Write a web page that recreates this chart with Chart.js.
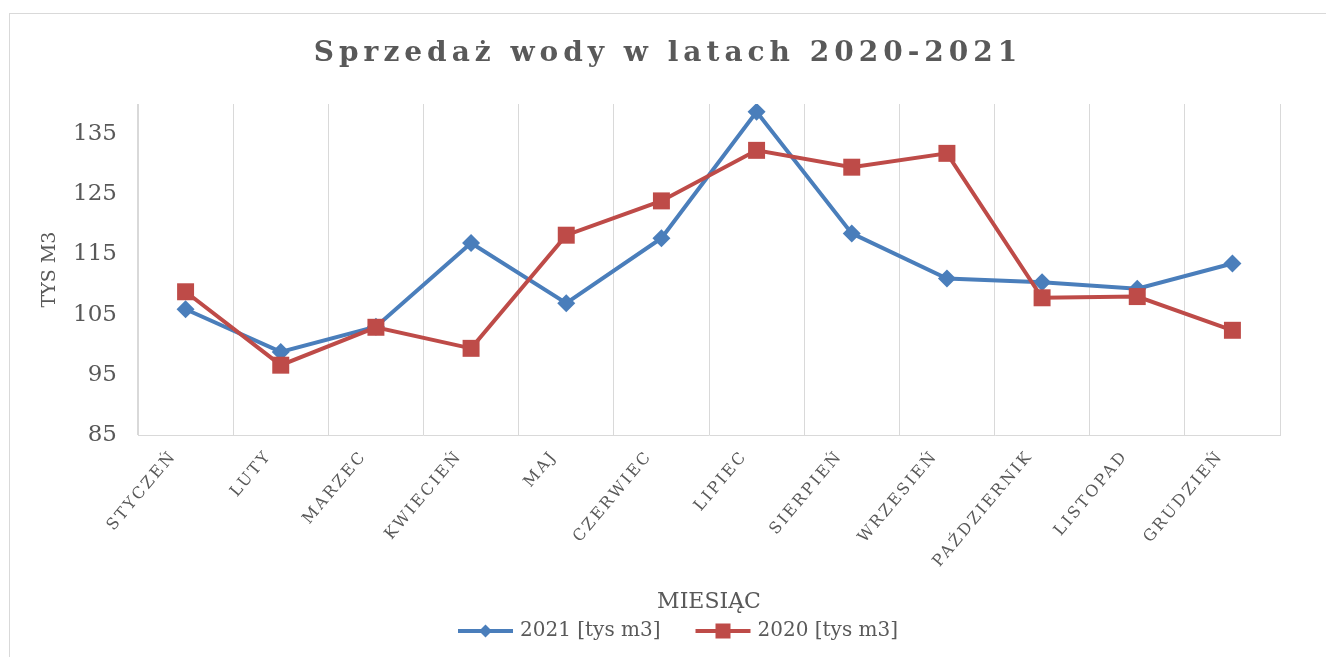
<!DOCTYPE html>
<html lang="pl">
<head>
<meta charset="utf-8">
<title>Sprzedaż wody w latach 2020-2021</title>
<script src="https://cdn.jsdelivr.net/npm/chart.js@4.4.1/dist/chart.umd.min.js"></script>
<style>
    html, body { margin: 0; padding: 0; background: #fff; overflow: hidden; }
    #frame {
        position: absolute;
        left: 9px;
        top: 13px;
        width: 1316px;
        height: 644px;
        border-left: 1px solid #d9d9d9;
        border-top: 1px solid #d9d9d9;
    }
</style>
</head>
<body>
<div id="frame"><canvas id="waterChart"></canvas></div>
<script>
// Dane
const months = ['STYCZEŃ', 'LUTY', 'MARZEC', 'KWIECIEŃ', 'MAJ', 'CZERWIEC',
    'LIPIEC', 'SIERPIEŃ', 'WRZESIEŃ', 'PAŹDZIERNIK', 'LISTOPAD', 'GRUDZIEŃ'];
const sales2021 = [105.9, 98.8, 103.0, 116.9, 106.9, 117.7, 138.7, 118.5, 111.0, 110.4, 109.3, 113.5];
const sales2020 = [108.8, 96.6, 102.9, 99.4, 118.2, 123.9, 132.3, 129.5, 131.8, 107.8, 108.0, 102.4];
const yTicks = [85, 95, 105, 115, 125, 135];
const seriesLabels = ['2021 [tys m3]', '2020 [tys m3]'];

const BLUE = '#4a7ebb';
const RED = '#be4b48';
const TEXT = '#595959';
const GRID = '#d9d9d9';

Chart.defaults.font.family = "'DejaVu Serif', serif";
Chart.defaults.color = TEXT;

// Ikona legendy: linia z markerem jak w Excelu.
// Obrazek jest o 10 px szerszy niż pole legendy, więc linia dochodzi bliżej tekstu.
const LEGEND_BOX = 72;
function legendIcon(color, style) {
    const c = document.createElement('canvas');
    c.width = LEGEND_BOX + 10;
    c.height = 22;
    const g = c.getContext('2d');
    const x0 = 25, x1 = c.width - 2;
    g.strokeStyle = color;
    g.lineWidth = 4;
    g.beginPath();
    g.moveTo(x0, 11);
    g.lineTo(x1, 11);
    g.stroke();
    g.fillStyle = color;
    const cx = (x0 + x1) / 2;
    if (style === 'rect') {
        g.fillRect(cx - 7.5, 3.5, 15, 15);
    } else {
        g.beginPath();
        g.moveTo(cx, 4.5);
        g.lineTo(cx + 6.5, 11);
        g.lineTo(cx, 17.5);
        g.lineTo(cx - 6.5, 11);
        g.closePath();
        g.fill();
    }
    return c;
}

// Rozstrzelony tekst (tytuł i etykiety osi X)
function spaceOut(target, method, ctx, spacing) {
    if (!target || target[method].spaced) return;
    const original = target[method];
    const wrapped = function (...args) {
        ctx.save();
        ctx.letterSpacing = spacing;
        original.apply(this, args);
        ctx.restore();
    };
    wrapped.spaced = true;
    target[method] = wrapped;
}

const letterSpacingPlugin = {
    id: 'letterSpacing',
    beforeDraw(chart) {
        spaceOut(chart.titleBlock, 'draw', chart.ctx, '5px');
        spaceOut(chart.scales.x, 'drawLabels', chart.ctx, '2.5px');
    }
};

const ctx = document.getElementById('waterChart').getContext('2d');

new Chart(ctx, {
    type: 'line',
    data: {
        labels: months,
        datasets: [{
            label: seriesLabels[0],
            data: sales2021,
            borderColor: BLUE,
            backgroundColor: BLUE,
            borderWidth: 4,
            pointStyle: 'rectRot',
            pointRadius: 9,
            pointBorderWidth: 0,
            pointBackgroundColor: BLUE,
            tension: 0,
            order: 1
        }, {
            label: seriesLabels[1],
            data: sales2020,
            borderColor: RED,
            backgroundColor: RED,
            borderWidth: 4,
            pointStyle: 'rect',
            pointRadius: 12,
            pointBorderWidth: 0,
            pointBackgroundColor: RED,
            tension: 0,
            order: 0
        }]
    },
    options: {
        responsive: true,
        maintainAspectRatio: false,
        animation: false,
        layout: {
            padding: { top: 0, left: 0, right: 0, bottom: 7 }
        },
        plugins: {
            title: {
                display: true,
                text: 'Sprzedaż wody w latach 2020-2021',
                color: TEXT,
                font: { size: 28, weight: 'bold' },
                padding: { top: 23, bottom: 33.4 }
            },
            legend: {
                position: 'bottom',
                labels: {
                    usePointStyle: true,
                    pointStyleWidth: LEGEND_BOX,
                    padding: 15,
                    color: TEXT,
                    font: { size: 20 },
                    generateLabels: chart => chart.data.datasets.map((ds, i) => ({
                        text: ds.label,
                        pointStyle: legendIcon(ds.borderColor, ds.pointStyle),
                        fillStyle: 'transparent',
                        strokeStyle: 'transparent',
                        lineWidth: 0,
                        hidden: false,
                        datasetIndex: i,
                        fontColor: TEXT
                    }))
                }
            },
            tooltip: { enabled: false }
        },
        scales: {
            x: {
                offset: true,
                grid: {
                    display: true,
                    offset: true,
                    color: GRID,
                    lineWidth: 1,
                    drawTicks: false
                },
                border: { display: true, color: GRID, width: 1 },
                ticks: {
                    autoSkip: false,
                    minRotation: 50,
                    maxRotation: 50,
                    padding: 12,
                    labelOffset: -12,
                    color: TEXT,
                    font: { size: 16 }
                },
                title: {
                    display: true,
                    text: 'MIESIĄC',
                    color: TEXT,
                    font: { size: 22 },
                    padding: { top: 0, bottom: -9 }
                },
                afterFit: scale => { scale.height = 171; }
            },
            y: {
                min: 85,
                max: 140,
                afterBuildTicks: scale => {
                    scale.ticks = yTicks.map(v => ({ value: v }));
                },
                grid: { display: false, drawTicks: false },
                border: { display: true, color: GRID, width: 1 },
                ticks: {
                    padding: 21,
                    color: TEXT,
                    font: { size: 23 }
                },
                title: {
                    display: true,
                    text: 'TYS M3',
                    color: TEXT,
                    font: { size: 19 },
                    padding: { top: 28.6, bottom: 0 }
                },
                afterFit: scale => { scale.width = 128; }
            },
            // pusta oś po prawej, tylko żeby zostawić margines jak w Excelu
            yRight: {
                type: 'linear',
                position: 'right',
                display: true,
                grid: { display: false },
                border: { display: false },
                ticks: { display: false },
                afterFit: scale => { scale.width = 46; }
            }
        }
    },
    plugins: [letterSpacingPlugin]
});
</script>
</body>
</html>
